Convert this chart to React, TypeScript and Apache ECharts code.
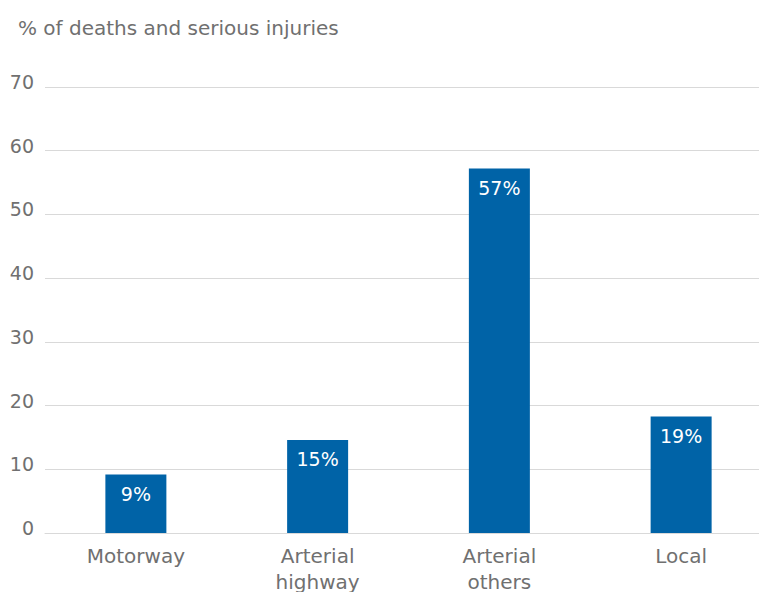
import React, { useEffect, useRef } from "react";
import * as echarts from "echarts";

const categories = ["Motorway", "Arterial\nhighway", "Arterial\nothers", "Local"];
const values = [9.2, 14.6, 57.2, 18.3];
const valueLabels = ["9%", "15%", "57%", "19%"];
const yTicks = [0, 10, 20, 30, 40, 50, 60, 70];
const yTitle = "% of deaths and serious injuries";

export default function App() {
  const ref = useRef<HTMLDivElement>(null);
  useEffect(() => {
    document.body.style.margin = "0";
    const chart = echarts.init(ref.current!, null, { renderer: "svg" });
    const font = "'DejaVu Sans', 'Liberation Sans', Arial, sans-serif";
    const grey = "#707070";
    chart.setOption({
      animation: false,
      textStyle: { fontFamily: font },
      graphic: [
        {
          type: "text",
          x: 18,
          y: 28,
          style: {
            text: yTitle,
            fontSize: 20,
            fill: grey,
            fontFamily: font,
            verticalAlign: "middle",
          },
        },
      ],
      grid: {
        left: 45,
        top: 87,
        width: 727,
        height: 446,
        containLabel: false,
        outerBoundsMode: "none",
      },
      xAxis: {
        type: "category",
        data: categories,
        axisTick: { show: false },
        axisLine: { lineStyle: { color: "#d9d9d9", width: 1 } },
        axisLabel: {
          color: grey,
          fontSize: 20,
          margin: 10,
          lineHeight: 26,
          fontFamily: font,
        },
      },
      yAxis: {
        type: "value",
        min: yTicks[0],
        max: yTicks[yTicks.length - 1],
        interval: 10,
        axisLine: { show: false },
        axisTick: { show: false },
        splitLine: { lineStyle: { color: "#d9d9d9", width: 1 } },
        axisLabel: {
          color: grey,
          fontSize: 19,
          margin: 11,
          fontFamily: font,
          verticalAlign: "bottom",
          lineHeight: 10,
        },
      },
      series: [
        {
          type: "bar",
          data: values,
          barWidth: 61,
          itemStyle: { color: "#0063a7" },
          label: {
            show: true,
            position: "insideTop",
            distance: 10,
            color: "#ffffff",
            fontSize: 19,
            fontFamily: font,
            formatter: (p: any) => valueLabels[p.dataIndex],
          },
        },
      ],
    });
    return () => chart.dispose();
  }, []);
  return (
    <div style={{ width: 759, height: 592, overflow: "hidden", position: "relative" }}>
      <div ref={ref} style={{ width: 790, height: 592 }} />
    </div>
  );
}
